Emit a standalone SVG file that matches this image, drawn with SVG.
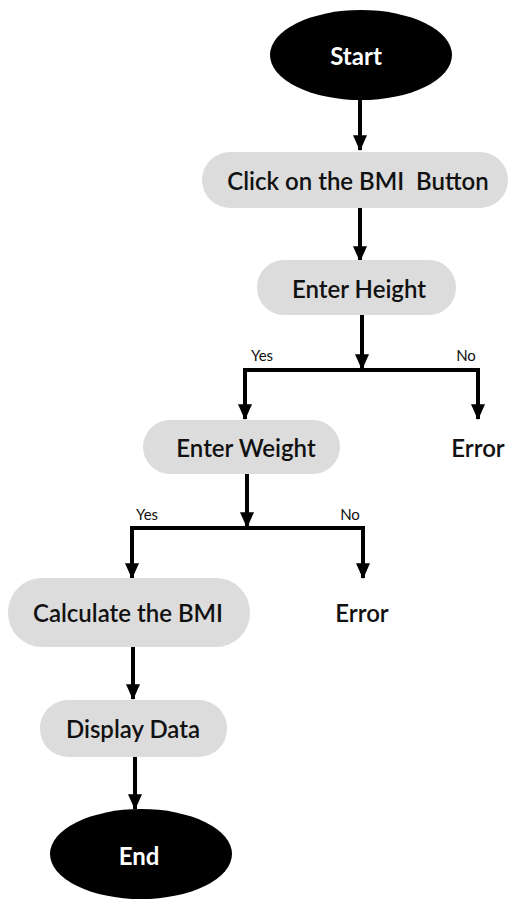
<svg xmlns="http://www.w3.org/2000/svg" width="515" height="899" viewBox="0 0 515 899">
<style>
.box{fill:#dcdcdc}
.term{fill:#000}
.t{font-family:Lato,"Liberation Sans",sans-serif;font-size:24px;fill:#111;text-anchor:middle;dominant-baseline:central;font-weight:600}
.tw{fill:#fff;font-weight:700}
.lbl{font-family:Lato,"Liberation Sans",sans-serif;font-size:15px;fill:#111;text-anchor:middle}
.c{stroke:#000;stroke-width:4;fill:none}
</style>
<defs>
<marker id="ah" markerUnits="userSpaceOnUse" markerWidth="18" markerHeight="14" refX="17" refY="8" orient="auto" viewBox="0 0 18 16">
<path d="M0,0 L18,8 L0,16 Z" fill="#000"/>
</marker>
</defs>
<rect width="515" height="899" fill="#fff"/>
<g id="connectors">
<path class="c" d="M360,100 V150" marker-end="url(#ah)"/>
<path class="c" d="M360,208 V261" marker-end="url(#ah)"/>
<path class="c" d="M362,315 V369" marker-end="url(#ah)"/>
<path class="c" d="M478,370 H245 M245,368 V419" marker-end="url(#ah)"/>
<path class="c" d="M478,368 V419" marker-end="url(#ah)"/>
<path class="c" d="M247,474 V527" marker-end="url(#ah)"/>
<path class="c" d="M363,528 H132 M132,526 V578" marker-end="url(#ah)"/>
<path class="c" d="M363,526 V578" marker-end="url(#ah)"/>
<path class="c" d="M133,647 V699" marker-end="url(#ah)"/>
<path class="c" d="M135,757 V809" marker-end="url(#ah)"/>
<text class="lbl" x="262" y="361">Yes</text>
<text class="lbl" x="466" y="361">No</text>
<text class="lbl" x="147" y="520">Yes</text>
<text class="lbl" x="350" y="520">No</text>
</g>
<g id="start">
<ellipse class="term" cx="361" cy="55" rx="91" ry="45"/>
<text class="t tw" x="356" y="55">Start</text>
</g>
<g id="click-bmi">
<rect class="box" x="202" y="152" width="306" height="56" rx="28"/>
<text class="t" x="358" y="180" xml:space="preserve">Click on the BMI  Button</text>
</g>
<g id="enter-height">
<rect class="box" x="257" y="260" width="199" height="55" rx="27"/>
<text class="t" x="359" y="288">Enter Height</text>
</g>
<g id="enter-weight">
<rect class="box" x="143" y="420" width="197" height="54" rx="27"/>
<text class="t" x="246" y="447">Enter Weight</text>
</g>
<g id="error1">
<text class="t" x="478" y="447">Error</text>
</g>
<g id="calculate-bmi">
<rect class="box" x="8" y="578" width="242" height="69" rx="34"/>
<text class="t" x="128" y="612">Calculate the BMI</text>
</g>
<g id="error2">
<text class="t" x="362" y="612">Error</text>
</g>
<g id="display-data">
<rect class="box" x="40" y="700" width="187" height="57" rx="28"/>
<text class="t" x="133" y="728">Display Data</text>
</g>
<g id="end">
<ellipse class="term" cx="141" cy="854" rx="91" ry="45"/>
<text class="t tw" x="139" y="855">End</text>
</g>
</svg>
